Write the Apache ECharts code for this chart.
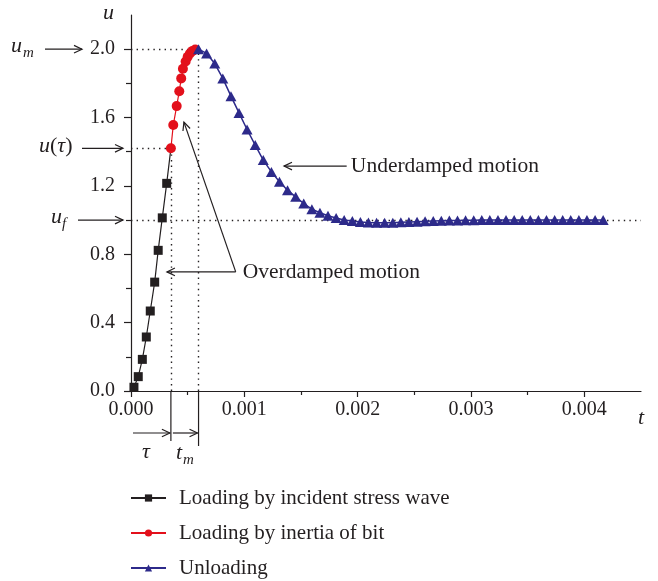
<!DOCTYPE html>
<html><head><meta charset="utf-8">
<script src="https://cdn.jsdelivr.net/npm/echarts@6/dist/echarts.min.js"></script>
<style>html,body{margin:0;padding:0;background:#fff}#c{width:658px;height:581px}</style>
</head><body><div id="c"></div>
<script>
// ---- data ----
const tLoad = [0.000026, 0.000064, 0.000100, 0.000135, 0.000170, 0.000209, 0.000240, 0.000276, 0.000315];
const uLoad = [0.022, 0.084, 0.185, 0.316, 0.468, 0.637, 0.823, 1.013, 1.215];

const tInertia = [0.000352, 0.000373, 0.000403, 0.000426, 0.000443, 0.000458, 0.000482, 0.000500, 0.000520, 0.000543, 0.000567];
const uInertia = [1.420, 1.556, 1.667, 1.754, 1.829, 1.885, 1.928, 1.955, 1.975, 1.990, 1.998];

const tUnload = [0.000596, 0.000667, 0.000739, 0.000810, 0.000882, 0.000953, 0.001024, 0.001096, 0.001167, 0.001239,
  0.001310, 0.001381, 0.001453, 0.001524, 0.001596, 0.001667, 0.001738, 0.001810, 0.001881, 0.001953,
  0.002024, 0.002095, 0.002167, 0.002238, 0.002310, 0.002381, 0.002452, 0.002524, 0.002595, 0.002667,
  0.002738, 0.002809, 0.002881, 0.002952, 0.003024, 0.003095, 0.003166, 0.003238, 0.003309, 0.003381,
  0.003452, 0.003523, 0.003595, 0.003666, 0.003738, 0.003809, 0.003880, 0.003952, 0.004023, 0.004095, 0.004166];
const uUnload = [2.000, 1.975, 1.916, 1.829, 1.725, 1.627, 1.530, 1.439, 1.351, 1.282,
  1.224, 1.175, 1.136, 1.097, 1.064, 1.043, 1.025, 1.012, 1.001, 0.994,
  0.989, 0.986, 0.984, 0.984, 0.985, 0.987, 0.989, 0.991, 0.993, 0.995,
  0.996, 0.997, 0.998, 0.999, 0.999, 1.000, 1.000, 1.000, 1.000, 1.000,
  1.000, 1.000, 1.000, 1.000, 1.000, 1.000, 1.000, 1.000, 1.000, 1.000, 1.000];

const xMajor = [0, 0.001, 0.002, 0.003, 0.004];
const xMinor = [0.0005, 0.0015, 0.0025, 0.0035];
const yMajor = [0, 0.4, 0.8, 1.2, 1.6, 2.0];
const yMinor = [0.2, 0.6, 1.0, 1.4, 1.8];

const seriesNames = ['Loading by incident stress wave', 'Loading by inertia of bit', 'Unloading'];

// characteristic values
const tau = 0.000352, uTau = 1.42, tm = 0.000596, uM = 2.0, uF = 1.0;
const xMax = 0.0045, yMax = 2.2;

// ---- styling ----
const INK = '#231f20';
const RED = '#e3101b';
const BLUE = '#2d2a8a';
const SERIF = '"Liberation Serif", "DejaVu Serif", serif';

const chart = echarts.init(document.getElementById('c'), null, {renderer: 'canvas'});
const axLine = {color: INK, width: 1.2};
const dotted = {color: INK, width: 1.4, type: [1.4, 4.2], opacity: 1};

const option = {
  animation: false,
  textStyle: {fontFamily: SERIF},
  grid: {left: 131, right: 17, top: 15, bottom: 190},
  legend: {
    orient: 'vertical', left: 130, top: 487, padding: 0, itemWidth: 35, itemHeight: 9, itemGap: 13,
    selectedMode: false,
    textStyle: {fontFamily: SERIF, fontSize: 21, color: INK, lineHeight: 22, padding: [0, 0, 0, 8]},
    data: seriesNames
  },
  xAxis: [
    {type: 'value', min: 0, max: xMax, interval: 0.0005,
     axisLine: {show: true, lineStyle: axLine},
     axisTick: {show: true, customValues: xMajor, length: 6, lineStyle: axLine},
     axisLabel: {customValues: xMajor, formatter: v => v.toFixed(3), margin: 9, fontFamily: SERIF, fontSize: 20, color: INK},
     splitLine: {show: false}},
    {type: 'value', position: 'bottom', min: 0, max: xMax, interval: 0.0005,
     axisLine: {show: false},
     axisTick: {show: true, customValues: xMinor, length: 4, lineStyle: axLine},
     axisLabel: {show: false}, splitLine: {show: false}}
  ],
  yAxis: [
    {type: 'value', min: 0, max: yMax, interval: 0.2,
     axisLine: {show: true, lineStyle: axLine},
     axisTick: {show: true, customValues: yMajor, length: 7, lineStyle: axLine},
     axisLabel: {customValues: yMajor, formatter: v => v.toFixed(1), margin: 16, fontFamily: SERIF, fontSize: 20, color: INK},
     splitLine: {show: false}},
    {type: 'value', position: 'left', min: 0, max: yMax, interval: 0.2,
     axisLine: {show: false},
     axisTick: {show: true, customValues: yMinor, length: 5, lineStyle: axLine},
     axisLabel: {show: false}, splitLine: {show: false}}
  ],
  series: [
    {name: seriesNames[0], type: 'line', xAxisIndex: 0, yAxisIndex: 0,
     data: tLoad.map((t, i) => [t, uLoad[i]]).concat([{value: [tau, uTau], symbol: 'none'}]),
     symbol: 'rect', symbolSize: 9, z: 3,
     itemStyle: {color: INK}, lineStyle: {color: INK, width: 1.2},
     markLine: {
       silent: true, symbol: ['none', 'none'], label: {show: false}, lineStyle: dotted, z: 1,
       emphasis: {disabled: true},
       data: [
         [{coord: [0, uM]}, {coord: [tm, uM]}],
         [{coord: [tm, 0]}, {coord: [tm, uM]}],
         [{coord: [0, uTau]}, {coord: [tau, uTau]}],
         [{coord: [tau, 0]}, {coord: [tau, uTau]}],
         [{coord: [0, uF]}, {coord: [xMax, uF]}]
       ]
     }},
    {name: seriesNames[1], type: 'line', xAxisIndex: 0, yAxisIndex: 0,
     data: tInertia.map((t, i) => [t, uInertia[i]]).concat([{value: [tm, uM], symbol: 'none'}]),
     symbol: 'circle', symbolSize: 10, z: 4,
     itemStyle: {color: RED}, lineStyle: {color: RED, width: 1.2}},
    {name: seriesNames[2], type: 'line', xAxisIndex: 0, yAxisIndex: 0,
     data: tUnload.map((t, i) => [t, uUnload[i]]),
     symbol: 'triangle', symbolSize: [11, 10], z: 5,
     itemStyle: {color: BLUE}, lineStyle: {color: BLUE, width: 1.5}}
  ]
};
chart.setOption(option);

// ---- annotations (positioned from data coordinates) ----
const P = (t, u) => chart.convertToPixel({xAxisIndex: 0, yAxisIndex: 0}, [t, u]);
const [x0, y0] = P(0, 0);
const yM = P(0, uM)[1], yT = P(0, uTau)[1], yF = P(0, uF)[1];
const xT = P(tau, 0)[0], xTm = P(tm, 0)[0];
const [xEnd] = P(xMax, 0);
const [, yTop] = P(0, yMax);

function head(x, y, ang) {
  const L = 8, W = 3.8;
  const bx = x - L * Math.cos(ang), by = y - L * Math.sin(ang);
  const nx = -Math.sin(ang) * W, ny = Math.cos(ang) * W;
  return {type: 'polyline', z: 100, shape: {points: [[bx + nx, by + ny], [x, y], [bx - nx, by - ny]]},
          style: {stroke: INK, lineWidth: 1.2, fill: 'none'}};
}
function seg(x1, y1, x2, y2) {
  return {type: 'line', z: 100, shape: {x1, y1, x2, y2}, style: {stroke: INK, lineWidth: 1.2}};
}
function arrow(x1, y1, x2, y2) {
  return [seg(x1, y1, x2, y2), head(x2, y2, Math.atan2(y2 - y1, x2 - x1))];
}
function txt(x, y, text, font, align) {
  return {type: 'text', z: 100, x, y, style: {text, font, fill: INK, textAlign: align || 'left', textVerticalAlign: 'middle'}};
}
const IT = 'italic 22px ' + SERIF;
const ITS = 'italic 15px ' + SERIF;
const UP = '21.5px ' + SERIF;

const g = [];
// axis titles
g.push(txt(x0 - 28, yTop - 2, 'u', IT, 'left'));
g.push(txt(xEnd, y0 + 27, 't', IT, 'center'));
// u_m
g.push(txt(x0 - 120, yM - 3, 'u', IT));
g.push(txt(x0 - 108, yM + 4, 'm', ITS));
g.push(...arrow(x0 - 86, yM, x0 - 49, yM));
// u(tau)
g.push({type: 'text', z: 100, x: x0 - 92, y: yT - 2,
  style: {text: '{i|u}{n|(}{i|τ}{n|)}', fill: INK, textAlign: 'left', textVerticalAlign: 'middle',
          rich: {i: {font: IT, fill: INK}, n: {font: '22px ' + SERIF, fill: INK}}}});
g.push(...arrow(x0 - 49, yT, x0 - 8, yT));
// u_f
g.push(txt(x0 - 80, yF - 3, 'u', IT));
g.push(txt(x0 - 69, yF + 4, 'f', ITS));
g.push(...arrow(x0 - 53, yF, x0 - 8, yF));
// below the t axis: tau and t_m
g.push(seg(xT, y0, xT, y0 + 50));
g.push(seg(xTm, y0, xTm, y0 + 55));
g.push(...arrow(x0 + 2, y0 + 42, xT - 1, y0 + 42));
g.push(...arrow(xT + 2, y0 + 42, xTm - 1, y0 + 42));
g.push(txt((x0 + xT) / 2 - 5, y0 + 61, 'τ', IT, 'center'));
g.push(txt(xT + 5, y0 + 62, 't', IT, 'left'));
g.push(txt(xT + 12, y0 + 69, 'm', ITS, 'left'));
// underdamped motion
const uTip = P(0.00135, 1.316), uTail = P(0.001903, 1.316), uText = P(0.00194, 1.316);
g.push(...arrow(uTail[0], uTail[1], uTip[0], uTip[1]));
g.push(txt(uText[0], uText[1], 'Underdamped motion', UP));
// overdamped motion
const oJ = P(0.000924, 0.697), oTipH = P(0.000317, 0.697), oTipD = P(0.000467, 1.573), oText = P(0.000986, 0.697);
g.push(...arrow(oJ[0], oJ[1], oTipH[0], oTipH[1]));
g.push(...arrow(oJ[0], oJ[1], oTipD[0], oTipD[1]));
g.push(txt(oText[0], oText[1], 'Overdamped motion', UP));

chart.setOption({graphic: g});
</script>
</body></html>
